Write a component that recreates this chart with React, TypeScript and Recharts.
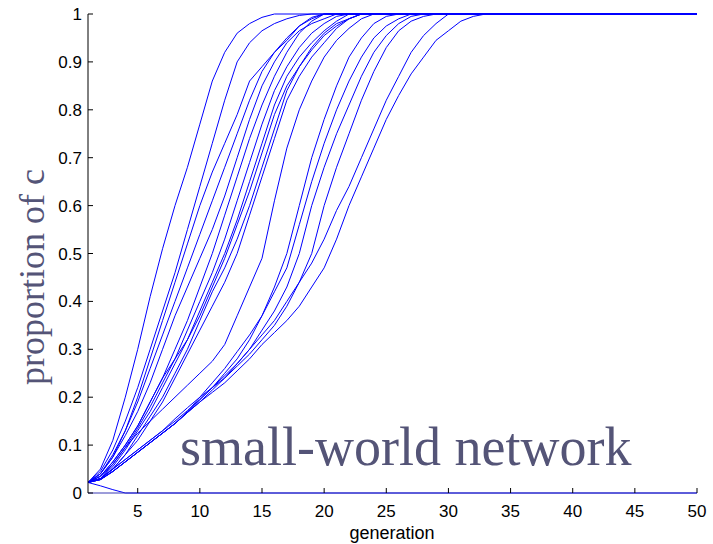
import React from 'react';
import { LineChart, Line, XAxis, YAxis } from 'recharts';

// generation axis ticks and proportion axis ticks
const xTicks = [5, 10, 15, 20, 25, 30, 35, 40, 45, 50];
const yTicks = [0, 0.1, 0.2, 0.3, 0.4, 0.5, 0.6, 0.7, 0.8, 0.9, 1];

// proportion of c per run, read at generation 1, 2, 3 ... until the run settles
const runFast1 = [0.022, 0.05, 0.11, 0.2, 0.3, 0.41, 0.51, 0.6, 0.68, 0.77, 0.86, 0.92, 0.96, 0.98, 0.993, 1];
const runFast2 = [0.022, 0.045, 0.09, 0.15, 0.22, 0.3, 0.38, 0.46, 0.55, 0.64, 0.73, 0.82, 0.9, 0.94, 0.965, 0.98, 0.99, 0.997, 1];
const runFast3 = [0.022, 0.04, 0.075, 0.13, 0.2, 0.28, 0.36, 0.44, 0.52, 0.6, 0.67, 0.73, 0.79, 0.86, 0.89, 0.92, 0.945, 0.975, 0.993, 1];
const runFast4 = [0.022, 0.04, 0.08, 0.13, 0.19, 0.26, 0.33, 0.4, 0.47, 0.54, 0.61, 0.68, 0.75, 0.82, 0.88, 0.92, 0.95, 0.975, 0.99, 1];
const runFast5 = [0.022, 0.04, 0.075, 0.12, 0.17, 0.23, 0.3, 0.37, 0.43, 0.49, 0.55, 0.62, 0.7, 0.78, 0.85, 0.9, 0.94, 0.965, 0.98, 0.99, 1];

const runMid1 = [0.022, 0.035, 0.065, 0.1, 0.14, 0.19, 0.24, 0.3, 0.36, 0.43, 0.5, 0.58, 0.66, 0.74, 0.81, 0.87, 0.92, 0.96, 0.985, 1];
const runMid2 = [0.022, 0.035, 0.06, 0.095, 0.135, 0.18, 0.23, 0.28, 0.34, 0.4, 0.46, 0.53, 0.61, 0.69, 0.77, 0.84, 0.89, 0.93, 0.96, 0.98, 0.995, 1];
const runMid3 = [0.022, 0.03, 0.055, 0.09, 0.13, 0.17, 0.22, 0.27, 0.32, 0.38, 0.44, 0.5, 0.57, 0.65, 0.73, 0.81, 0.87, 0.91, 0.94, 0.965, 0.985, 1];
const runMid4 = [0.022, 0.03, 0.05, 0.08, 0.12, 0.16, 0.2, 0.25, 0.3, 0.36, 0.42, 0.47, 0.53, 0.6, 0.68, 0.76, 0.84, 0.89, 0.93, 0.96, 0.98, 0.99, 1];
const runMid5 = [0.022, 0.03, 0.05, 0.08, 0.11, 0.15, 0.19, 0.24, 0.29, 0.34, 0.39, 0.44, 0.5, 0.58, 0.66, 0.74, 0.82, 0.87, 0.91, 0.94, 0.97, 0.99, 1];
const runMid6 = [0.022, 0.035, 0.065, 0.1, 0.14, 0.19, 0.24, 0.28, 0.32, 0.37, 0.43, 0.49, 0.56, 0.63, 0.71, 0.79, 0.85, 0.89, 0.925, 0.955, 0.975, 0.99, 1];
const runKink = [0.022, 0.03, 0.06, 0.095, 0.125, 0.15, 0.175, 0.2, 0.225, 0.25, 0.275, 0.31, 0.37, 0.43, 0.49, 0.61, 0.72, 0.8, 0.86, 0.91, 0.945, 0.97, 0.99, 1];

const runSlow1 = [0.022, 0.03, 0.05, 0.07, 0.09, 0.11, 0.13, 0.155, 0.178, 0.2, 0.23, 0.26, 0.295, 0.33, 0.37, 0.43, 0.5, 0.6, 0.7, 0.78, 0.85, 0.91, 0.95, 0.98, 0.995, 1];
const runSlow2 = [0.022, 0.03, 0.05, 0.07, 0.09, 0.11, 0.13, 0.15, 0.172, 0.195, 0.22, 0.25, 0.28, 0.32, 0.37, 0.42, 0.47, 0.56, 0.65, 0.73, 0.8, 0.86, 0.91, 0.95, 0.975, 0.99, 1];
const runSlow3 = [0.022, 0.028, 0.045, 0.065, 0.085, 0.105, 0.125, 0.145, 0.168, 0.19, 0.215, 0.24, 0.27, 0.3, 0.34, 0.38, 0.43, 0.5, 0.6, 0.68, 0.75, 0.81, 0.87, 0.92, 0.955, 0.98, 0.995, 1];
const runSlow4 = [0.022, 0.028, 0.045, 0.065, 0.085, 0.105, 0.125, 0.145, 0.17, 0.2, 0.22, 0.245, 0.27, 0.3, 0.33, 0.36, 0.4, 0.44, 0.5, 0.6, 0.68, 0.75, 0.82, 0.88, 0.93, 0.965, 0.985, 0.995, 1];
const runSlow5 = [0.022, 0.028, 0.045, 0.065, 0.085, 0.105, 0.125, 0.145, 0.168, 0.195, 0.22, 0.24, 0.265, 0.29, 0.32, 0.35, 0.39, 0.44, 0.48, 0.53, 0.59, 0.64, 0.7, 0.76, 0.82, 0.87, 0.92, 0.955, 0.98, 1];
const runSlow6 = [0.022, 0.028, 0.045, 0.065, 0.085, 0.105, 0.125, 0.145, 0.168, 0.19, 0.21, 0.23, 0.255, 0.28, 0.31, 0.335, 0.36, 0.39, 0.43, 0.47, 0.53, 0.6, 0.66, 0.72, 0.78, 0.83, 0.875, 0.91, 0.945, 0.965, 0.985, 0.995, 1];

const runDies = [0.022, 0.015, 0.007, 0];

const runs = [
  runFast1, runFast2, runFast3, runFast4, runFast5,
  runMid1, runMid2, runMid3, runMid4, runMid5, runMid6, runKink,
  runSlow1, runSlow2, runSlow3, runSlow4, runSlow5, runSlow6,
  runDies,
];

const LAST_GEN = 50;

// a run stays at its last value once it settles, so one closing point at generation 50 is enough
const toPoints = (vals: number[]) => {
  const pts = vals.map((y, i) => ({ x: i + 1, y }));
  pts.push({ x: LAST_GEN, y: vals[vals.length - 1] });
  return pts;
};

const sans = "'Liberation Sans', Arial, Helvetica, sans-serif";
const serif = "'Liberation Serif', 'Times New Roman', serif";
const labelColor = '#545477';

export default function App() {
  return (
    <div style={{ position: 'absolute', left: 0, top: 0, width: 713, height: 544, background: '#fff' }}>
      <LineChart width={713} height={544} margin={{ top: 14, right: 16, left: 0, bottom: 0 }}>
        <XAxis
          type="number"
          dataKey="x"
          domain={[1, 50]}
          ticks={xTicks}
          allowDataOverflow
          height={51}
          tickSize={-5}
          tickMargin={17}
          stroke="#000"
          axisLine={{ stroke: '#3a3ab4' }}
          tick={{ fontSize: 17, fill: '#000', fontFamily: sans }}
        />
        <YAxis
          type="number"
          domain={[0, 1]}
          ticks={yTicks}
          width={88}
          tickSize={-5}
          tickMargin={11}
          stroke="#000"
          tick={{ fontSize: 17, fill: '#000', fontFamily: sans }}
        />
        {runs.map((r, i) => (
          <Line
            key={i}
            data={toPoints(r)}
            dataKey="y"
            type="linear"
            stroke="#0000ff"
            strokeWidth={1}
            dot={false}
            activeDot={false}
            isAnimationActive={false}
          />
        ))}
      </LineChart>
      <svg width={713} height={544} style={{ position: 'absolute', left: 0, top: 0, pointerEvents: 'none' }}>
        <text x={392} y={539} textAnchor="middle" fontSize={18} fontFamily={sans} fill="#000">
          generation
        </text>
        <text
          transform="translate(44, 277) rotate(-90)"
          textAnchor="middle"
          fontSize={36}
          fontFamily={serif}
          fill={labelColor}
        >
          proportion of c
        </text>
        <text x={180} y={465} fontSize={54} fontFamily={serif} fill={labelColor}>
          small-world network
        </text>
      </svg>
    </div>
  );
}
